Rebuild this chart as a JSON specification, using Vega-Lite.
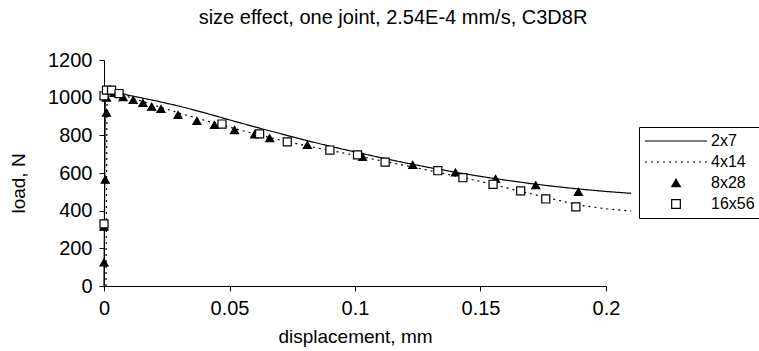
{
  "$schema": "https://vega.github.io/schema/vega-lite/v6.json",
  "width": 502,
  "height": 226,
  "autosize": "none",
  "padding": {"left": 104, "top": 60, "right": 153, "bottom": 65},
  "background": "white",
  "config": {
    "view": {"stroke": null},
    "font": "Liberation Sans",
    "axis": {
      "domainColor": "black", "tickColor": "black", "grid": false,
      "labelColor": "black", "titleColor": "black",
      "labelFont": "Liberation Sans", "titleFont": "Liberation Sans",
      "labelFontSize": 20, "titleFontSize": 19, "titleFontWeight": "normal",
      "tickSize": 5
    }
  },
  "title": {
    "text": "size effect, one joint, 2.54E-4 mm/s, C3D8R",
    "anchor": "middle", "fontSize": 20, "fontWeight": "normal",
    "font": "Liberation Sans", "color": "black", "offset": 22, "dx": 38
  },
  "data": {"values": [
    {"s": "2x7", "o": 0, "x": 0, "y": 0},
    {"s": "2x7", "o": 1, "x": 0.0005, "y": 1000},
    {"s": "2x7", "o": 2, "x": 0.0015, "y": 1040},
    {"s": "2x7", "o": 3, "x": 0.005, "y": 1030},
    {"s": "2x7", "o": 4, "x": 0.01, "y": 1012},
    {"s": "2x7", "o": 5, "x": 0.02, "y": 985},
    {"s": "2x7", "o": 6, "x": 0.03, "y": 955},
    {"s": "2x7", "o": 7, "x": 0.04, "y": 920},
    {"s": "2x7", "o": 8, "x": 0.05, "y": 882},
    {"s": "2x7", "o": 9, "x": 0.06, "y": 845},
    {"s": "2x7", "o": 10, "x": 0.07, "y": 810},
    {"s": "2x7", "o": 11, "x": 0.08, "y": 775},
    {"s": "2x7", "o": 12, "x": 0.09, "y": 742},
    {"s": "2x7", "o": 13, "x": 0.1, "y": 712},
    {"s": "2x7", "o": 14, "x": 0.11, "y": 682},
    {"s": "2x7", "o": 15, "x": 0.12, "y": 654},
    {"s": "2x7", "o": 16, "x": 0.13, "y": 628},
    {"s": "2x7", "o": 17, "x": 0.14, "y": 604},
    {"s": "2x7", "o": 18, "x": 0.15, "y": 582},
    {"s": "2x7", "o": 19, "x": 0.16, "y": 562},
    {"s": "2x7", "o": 20, "x": 0.17, "y": 544},
    {"s": "2x7", "o": 21, "x": 0.18, "y": 528},
    {"s": "2x7", "o": 22, "x": 0.19, "y": 514},
    {"s": "2x7", "o": 23, "x": 0.2, "y": 502},
    {"s": "2x7", "o": 24, "x": 0.21, "y": 492},
    {"s": "4x14", "o": 0, "x": 0.0008, "y": 0},
    {"s": "4x14", "o": 1, "x": 0.0012, "y": 1000},
    {"s": "4x14", "o": 2, "x": 0.002, "y": 1040},
    {"s": "4x14", "o": 3, "x": 0.006, "y": 1025},
    {"s": "4x14", "o": 4, "x": 0.01, "y": 1003},
    {"s": "4x14", "o": 5, "x": 0.02, "y": 960},
    {"s": "4x14", "o": 6, "x": 0.03, "y": 918},
    {"s": "4x14", "o": 7, "x": 0.04, "y": 880},
    {"s": "4x14", "o": 8, "x": 0.05, "y": 843},
    {"s": "4x14", "o": 9, "x": 0.06, "y": 808},
    {"s": "4x14", "o": 10, "x": 0.07, "y": 776},
    {"s": "4x14", "o": 11, "x": 0.08, "y": 746},
    {"s": "4x14", "o": 12, "x": 0.09, "y": 720},
    {"s": "4x14", "o": 13, "x": 0.1, "y": 694},
    {"s": "4x14", "o": 14, "x": 0.11, "y": 666},
    {"s": "4x14", "o": 15, "x": 0.12, "y": 640},
    {"s": "4x14", "o": 16, "x": 0.13, "y": 612},
    {"s": "4x14", "o": 17, "x": 0.14, "y": 584},
    {"s": "4x14", "o": 18, "x": 0.15, "y": 555},
    {"s": "4x14", "o": 19, "x": 0.16, "y": 522},
    {"s": "4x14", "o": 20, "x": 0.17, "y": 490},
    {"s": "4x14", "o": 21, "x": 0.18, "y": 458},
    {"s": "4x14", "o": 22, "x": 0.19, "y": 428},
    {"s": "4x14", "o": 23, "x": 0.2, "y": 410},
    {"s": "4x14", "o": 24, "x": 0.21, "y": 398},
    {"s": "8x28", "x": 0, "y": 125},
    {"s": "8x28", "x": 0, "y": 315},
    {"s": "8x28", "x": 0.0005, "y": 565},
    {"s": "8x28", "x": 0.001, "y": 920},
    {"s": "8x28", "x": 0.001, "y": 1000},
    {"s": "8x28", "x": 0.002, "y": 1035},
    {"s": "8x28", "x": 0.004, "y": 1025},
    {"s": "8x28", "x": 0.0076, "y": 1003},
    {"s": "8x28", "x": 0.0116, "y": 988},
    {"s": "8x28", "x": 0.0155, "y": 972},
    {"s": "8x28", "x": 0.019, "y": 952},
    {"s": "8x28", "x": 0.0227, "y": 940},
    {"s": "8x28", "x": 0.0295, "y": 908},
    {"s": "8x28", "x": 0.037, "y": 876},
    {"s": "8x28", "x": 0.044, "y": 855},
    {"s": "8x28", "x": 0.052, "y": 828},
    {"s": "8x28", "x": 0.06, "y": 805},
    {"s": "8x28", "x": 0.066, "y": 785},
    {"s": "8x28", "x": 0.081, "y": 749},
    {"s": "8x28", "x": 0.103, "y": 685},
    {"s": "8x28", "x": 0.123, "y": 643},
    {"s": "8x28", "x": 0.14, "y": 603},
    {"s": "8x28", "x": 0.156, "y": 568},
    {"s": "8x28", "x": 0.172, "y": 535},
    {"s": "8x28", "x": 0.189, "y": 500},
    {"s": "16x56", "x": 0, "y": 330},
    {"s": "16x56", "x": 0, "y": 1010},
    {"s": "16x56", "x": 0.001, "y": 1040},
    {"s": "16x56", "x": 0.003, "y": 1040},
    {"s": "16x56", "x": 0.006, "y": 1022},
    {"s": "16x56", "x": 0.047, "y": 860},
    {"s": "16x56", "x": 0.062, "y": 808},
    {"s": "16x56", "x": 0.073, "y": 765},
    {"s": "16x56", "x": 0.09, "y": 722},
    {"s": "16x56", "x": 0.101, "y": 696},
    {"s": "16x56", "x": 0.112, "y": 658},
    {"s": "16x56", "x": 0.133, "y": 612},
    {"s": "16x56", "x": 0.143, "y": 575},
    {"s": "16x56", "x": 0.155, "y": 540},
    {"s": "16x56", "x": 0.166, "y": 505},
    {"s": "16x56", "x": 0.176, "y": 462},
    {"s": "16x56", "x": 0.188, "y": 420}
  ]},
  "encoding": {
    "x": {
      "field": "x", "type": "quantitative",
      "scale": {"domain": [0, 0.2], "nice": false, "zero": false},
      "axis": {"values": [0, 0.05, 0.1, 0.15, 0.2], "format": "~g", "title": "displacement, mm", "labelPadding": 7, "titleY": 41, "labelFlush": false}
    },
    "y": {
      "field": "y", "type": "quantitative",
      "scale": {"domain": [0, 1200], "nice": false},
      "axis": {"values": [0, 200, 400, 600, 800, 1000, 1200], "format": "d", "title": "load, N", "titleX": -76, "titleY": 123, "labelPadding": 7}
    }
  },
  "layer": [
    {
      "transform": [{"filter": "datum.s === '2x7' || datum.s === '4x14'"}],
      "mark": {"type": "line", "color": "black", "strokeWidth": 1.2, "clip": false},
      "encoding": {
        "order": {"field": "o", "type": "quantitative"},
        "strokeDash": {
          "field": "s", "type": "nominal",
          "scale": {"domain": ["2x7", "4x14", "8x28", "16x56"], "range": [[1, 0], [2, 4], [1, 0], [1, 0]]},
          "legend": {
            "title": null, "orient": "none", "legendX": 535, "legendY": 67,
            "strokeColor": "black", "padding": 6, "rowPadding": 5,
            "labelFontSize": 16, "labelFont": "Liberation Sans", "labelColor": "black",
            "symbolOffset": 23, "labelOffset": 27,
            "symbolStrokeColor": "black", "symbolStrokeWidth": 1.2,
            "encode": {"symbols": {"update": {"size": {"signal": "datum.value === '2x7' || datum.value === '4x14' ? 3844 : 75"}}}}
          }
        }
      }
    },
    {
      "transform": [{"filter": "datum.s === '8x28' || datum.s === '16x56'"}],
      "mark": {"type": "point", "filled": true, "stroke": "black", "strokeWidth": 1.2, "opacity": 1, "size": 65, "clip": false},
      "encoding": {
        "shape": {
          "field": "s", "type": "nominal",
          "scale": {"domain": ["2x7", "4x14", "8x28", "16x56"], "range": ["stroke", "stroke", "triangle-up", "square"]}
        },
        "fill": {
          "field": "s", "type": "nominal",
          "scale": {"domain": ["2x7", "4x14", "8x28", "16x56"], "range": ["black", "black", "black", "white"]}
        }
      }
    }
  ]
}
